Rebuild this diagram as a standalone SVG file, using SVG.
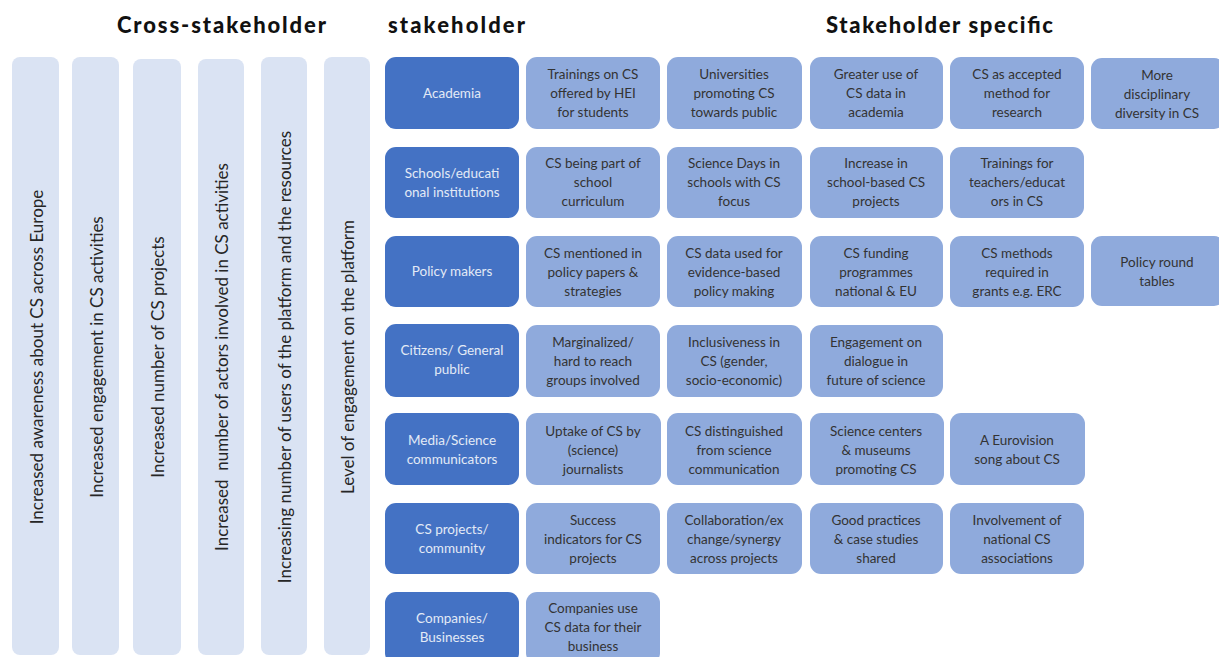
<svg xmlns="http://www.w3.org/2000/svg" width="1219" height="657" viewBox="0 0 1219 657">
<style>
.hdr{font-family:Lato,"Liberation Sans",sans-serif;font-weight:900;font-size:22px;fill:#111}
.col{fill:#dae3f3}
.ct{font-family:Lato,"Liberation Sans",sans-serif;font-size:17px;fill:#262626;text-anchor:middle;dominant-baseline:central}
.sh{fill:#4472c4}
.st{font-family:Lato,"Liberation Sans",sans-serif;font-size:13.5px;fill:#e3eaf6;text-anchor:middle;dominant-baseline:central}
.it{fill:#8faadc}
.tt{font-family:Lato,"Liberation Sans",sans-serif;font-size:13.5px;fill:#333;text-anchor:middle;dominant-baseline:central}
</style>
<rect width="1219" height="657" fill="#fff"/>
<g id="headers">
<text class="hdr" x="117" y="33" textLength="209" lengthAdjust="spacing">Cross-stakeholder</text>
<text class="hdr" x="388" y="33" textLength="137" lengthAdjust="spacing">stakeholder</text>
<text class="hdr" x="826" y="33" textLength="227" lengthAdjust="spacing">Stakeholder specific</text>
</g>
<g id="cross1"><rect class="col" x="12" y="57" width="47" height="598" rx="8"/><text class="ct" transform="translate(36,357) rotate(-90)">Increased awareness about CS across Europe</text></g>
<g id="cross2"><rect class="col" x="72" y="57" width="47" height="598" rx="8"/><text class="ct" transform="translate(96,357) rotate(-90)">Increased engagement in CS activities</text></g>
<g id="cross3"><rect class="col" x="133" y="59" width="48" height="596" rx="8"/><text class="ct" transform="translate(157,357) rotate(-90)">Increased number of CS projects</text></g>
<g id="cross4"><rect class="col" x="198" y="59" width="46" height="596" rx="8"/><text class="ct" transform="translate(221,357) rotate(-90)" xml:space="preserve">Increased  number of actors involved in CS activities</text></g>
<g id="cross5"><rect class="col" x="261" y="57" width="46" height="598" rx="8"/><text class="ct" transform="translate(284,357) rotate(-90)">Increasing number of users of the platform and the resources</text></g>
<g id="cross6"><rect class="col" x="324" y="57" width="46" height="598" rx="8"/><text class="ct" transform="translate(347,357) rotate(-90)">Level of engagement on the platform</text></g>

<g id="academia"><rect class="sh" x="385" y="57" width="134" height="72" rx="11"/><text class="st" x="452" y="93">Academia</text></g>
<g id="a1"><rect class="it" x="526" y="57" width="134" height="72" rx="11"/><text class="tt" x="593" y="74">Trainings on CS</text><text class="tt" x="593" y="93">offered by HEI</text><text class="tt" x="593" y="112">for students</text></g>
<g id="a2"><rect class="it" x="667" y="57" width="135" height="72" rx="11"/><text class="tt" x="734" y="74">Universities</text><text class="tt" x="734" y="93">promoting CS</text><text class="tt" x="734" y="112">towards public</text></g>
<g id="a3"><rect class="it" x="810" y="57" width="133" height="72" rx="11"/><text class="tt" x="876" y="74">Greater use of</text><text class="tt" x="876" y="93">CS data in</text><text class="tt" x="876" y="112">academia</text></g>
<g id="a4"><rect class="it" x="950" y="57" width="134" height="72" rx="11"/><text class="tt" x="1017" y="74">CS as accepted</text><text class="tt" x="1017" y="93">method for</text><text class="tt" x="1017" y="112">research</text></g>
<g id="a5"><rect class="it" x="1091" y="58" width="134" height="71" rx="11"/><text class="tt" x="1157" y="75">More</text><text class="tt" x="1157" y="94">disciplinary</text><text class="tt" x="1157" y="113">diversity in CS</text></g>

<g id="schools"><rect class="sh" x="385" y="147" width="134" height="71" rx="11"/><text class="st" x="452" y="173">Schools/educati</text><text class="st" x="452" y="192">onal institutions</text></g>
<g id="s1"><rect class="it" x="526" y="147" width="134" height="71" rx="11"/><text class="tt" x="593" y="163">CS being part of</text><text class="tt" x="593" y="182">school</text><text class="tt" x="593" y="201">curriculum</text></g>
<g id="s2"><rect class="it" x="667" y="147" width="135" height="71" rx="11"/><text class="tt" x="734" y="163">Science Days in</text><text class="tt" x="734" y="182">schools with CS</text><text class="tt" x="734" y="201">focus</text></g>
<g id="s3"><rect class="it" x="810" y="147" width="133" height="71" rx="11"/><text class="tt" x="876" y="163">Increase in</text><text class="tt" x="876" y="182">school-based CS</text><text class="tt" x="876" y="201">projects</text></g>
<g id="s4"><rect class="it" x="950" y="147" width="134" height="71" rx="11"/><text class="tt" x="1017" y="163">Trainings for</text><text class="tt" x="1017" y="182">teachers/educat</text><text class="tt" x="1017" y="201">ors in CS</text></g>

<g id="policy"><rect class="sh" x="385" y="236" width="134" height="71" rx="11"/><text class="st" x="452" y="271">Policy makers</text></g>
<g id="p1"><rect class="it" x="526" y="236" width="134" height="71" rx="11"/><text class="tt" x="593" y="253">CS mentioned in</text><text class="tt" x="593" y="272">policy papers &amp;</text><text class="tt" x="593" y="291">strategies</text></g>
<g id="p2"><rect class="it" x="667" y="236" width="135" height="71" rx="11"/><text class="tt" x="734" y="253">CS data used for</text><text class="tt" x="734" y="272">evidence-based</text><text class="tt" x="734" y="291">policy making</text></g>
<g id="p3"><rect class="it" x="810" y="236" width="133" height="71" rx="11"/><text class="tt" x="876" y="253">CS funding</text><text class="tt" x="876" y="272">programmes</text><text class="tt" x="876" y="291">national &amp; EU</text></g>
<g id="p4"><rect class="it" x="950" y="236" width="134" height="71" rx="11"/><text class="tt" x="1017" y="253">CS methods</text><text class="tt" x="1017" y="272">required in</text><text class="tt" x="1017" y="291">grants e.g. ERC</text></g>
<g id="p5"><rect class="it" x="1091" y="236" width="134" height="70" rx="11"/><text class="tt" x="1157" y="262">Policy round</text><text class="tt" x="1157" y="281">tables</text></g>

<g id="citizens"><rect class="sh" x="385" y="324" width="134" height="73" rx="11"/><text class="st" x="452" y="350">Citizens/ General</text><text class="st" x="452" y="369">public</text></g>
<g id="c1"><rect class="it" x="526" y="325" width="134" height="72" rx="11"/><text class="tt" x="593" y="342">Marginalized/</text><text class="tt" x="593" y="361">hard to reach</text><text class="tt" x="593" y="380">groups involved</text></g>
<g id="c2"><rect class="it" x="667" y="325" width="135" height="72" rx="11"/><text class="tt" x="734" y="342">Inclusiveness in</text><text class="tt" x="734" y="361">CS (gender,</text><text class="tt" x="734" y="380">socio-economic)</text></g>
<g id="c3"><rect class="it" x="810" y="325" width="133" height="72" rx="11"/><text class="tt" x="876" y="342">Engagement on</text><text class="tt" x="876" y="361">dialogue in</text><text class="tt" x="876" y="380">future of science</text></g>

<g id="media"><rect class="sh" x="385" y="413" width="134" height="72" rx="11"/><text class="st" x="452" y="440">Media/Science</text><text class="st" x="452" y="459">communicators</text></g>
<g id="m1"><rect class="it" x="526" y="413" width="135" height="72" rx="11"/><text class="tt" x="593" y="431">Uptake of CS by</text><text class="tt" x="593" y="450">(science)</text><text class="tt" x="593" y="469">journalists</text></g>
<g id="m2"><rect class="it" x="667" y="413" width="135" height="72" rx="11"/><text class="tt" x="734" y="431">CS distinguished</text><text class="tt" x="734" y="450">from science</text><text class="tt" x="734" y="469">communication</text></g>
<g id="m3"><rect class="it" x="810" y="413" width="134" height="72" rx="11"/><text class="tt" x="876" y="431">Science centers</text><text class="tt" x="876" y="450">&amp; museums</text><text class="tt" x="876" y="469">promoting CS</text></g>
<g id="m4"><rect class="it" x="950" y="413" width="135" height="72" rx="11"/><text class="tt" x="1017" y="440">A Eurovision</text><text class="tt" x="1017" y="459">song about CS</text></g>

<g id="csprojects"><rect class="sh" x="385" y="503" width="134" height="71" rx="11"/><text class="st" x="452" y="529">CS projects/</text><text class="st" x="452" y="548">community</text></g>
<g id="cp1"><rect class="it" x="526" y="503" width="134" height="71" rx="11"/><text class="tt" x="593" y="520">Success</text><text class="tt" x="593" y="539">indicators for CS</text><text class="tt" x="593" y="558">projects</text></g>
<g id="cp2"><rect class="it" x="667" y="503" width="135" height="71" rx="11"/><text class="tt" x="734" y="520">Collaboration/ex</text><text class="tt" x="734" y="539">change/synergy</text><text class="tt" x="734" y="558">across projects</text></g>
<g id="cp3"><rect class="it" x="810" y="503" width="133" height="71" rx="11"/><text class="tt" x="876" y="520">Good practices</text><text class="tt" x="876" y="539">&amp; case studies</text><text class="tt" x="876" y="558">shared</text></g>
<g id="cp4"><rect class="it" x="950" y="503" width="134" height="71" rx="11"/><text class="tt" x="1017" y="520">Involvement of</text><text class="tt" x="1017" y="539">national CS</text><text class="tt" x="1017" y="558">associations</text></g>

<g id="companies"><rect class="sh" x="385" y="592" width="134" height="72" rx="11"/><text class="st" x="452" y="618">Companies/</text><text class="st" x="452" y="637">Businesses</text></g>
<g id="co1"><rect class="it" x="526" y="592" width="134" height="72" rx="11"/><text class="tt" x="593" y="608">Companies use</text><text class="tt" x="593" y="627">CS data for their</text><text class="tt" x="593" y="646">business</text></g>
<g id="connectors"/>
</svg>
